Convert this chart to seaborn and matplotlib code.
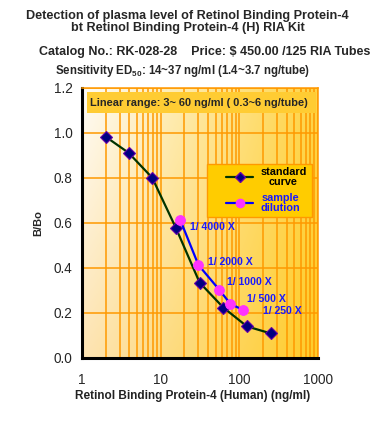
import numpy as np
import pandas as pd
import matplotlib
matplotlib.use("Agg")
import matplotlib.pyplot as plt
import seaborn as sns
from matplotlib.lines import Line2D
from matplotlib.patches import Rectangle
from matplotlib.ticker import LogLocator, FixedLocator

# ---- data ----
std_conc = [2.0, 3.9, 7.8, 15.6, 31.25, 62.5, 125.0, 250.0]
std_bbo = [0.982, 0.911, 0.80, 0.577, 0.334, 0.223, 0.139, 0.108]
smp_conc = [17.8, 30.2, 55.8, 77.0, 112.0]
smp_bbo = [0.611, 0.412, 0.301, 0.239, 0.212]
smp_labels = ["1/ 4000 X", "1/ 2000 X", "1/ 1000 X", "1/ 500 X", "1/ 250 X"]
x_ticks = [1, 10, 100, 1000]
y_ticks = [0.0, 0.2, 0.4, 0.6, 0.8, 1.0, 1.2]

sns.set_style("white")
plt.rcParams['font.family'] = ['Liberation Sans', 'DejaVu Sans']
plt.rcParams['mathtext.fontset'] = 'custom'
plt.rcParams['mathtext.rm'] = 'Liberation Sans:bold'
plt.rcParams['mathtext.default'] = 'rm'

fig = plt.figure(figsize=(3.75, 4.25), dpi=100)
fig.patch.set_facecolor("white")
ax = fig.add_axes([0.2187, 0.1584, 0.6293, 0.6352])

# gradient background
nx, ny = 200, 100
gx = np.linspace(0, 1, nx)[None, :]
gy = np.linspace(0, 1, ny)[:, None]  # 0 = bottom
c_tl = np.array([255, 252, 246]) / 255
c_bl = np.array([253, 228, 180]) / 255
c_tr = np.array([255, 212, 72]) / 255
c_br = np.array([255, 204, 40]) / 255
top = c_tl[None, None, :] * (1 - gx[..., None]) + c_tr[None, None, :] * gx[..., None]
bot = c_bl[None, None, :] * (1 - gx[..., None]) + c_br[None, None, :] * gx[..., None]
img = bot * (1 - gy[..., None]) + top * gy[..., None]
ax.imshow(img, extent=[0, 1, 0, 1], transform=ax.transAxes, origin="lower",
          aspect="auto", zorder=0)

df_std = pd.DataFrame({"conc": std_conc, "bbo": std_bbo})
df_smp = pd.DataFrame({"conc": smp_conc, "bbo": smp_bbo})

sns.lineplot(data=df_std, x="conc", y="bbo", ax=ax, color="#003300", lw=1.6,
             marker="D", markersize=6, markerfacecolor="#000080",
             markeredgecolor="#6600aa", markeredgewidth=0.8, zorder=5)
sns.lineplot(data=df_smp, x="conc", y="bbo", ax=ax, color="#0000ff", lw=1.6,
             marker="o", markersize=7, markerfacecolor="#ff33ff",
             markeredgecolor="#ff33ff", zorder=6)

ax.set_xscale("log")
ax.set_xlim(1, 1000)
ax.set_ylim(0, 1.2)
ax.xaxis.set_major_locator(FixedLocator(x_ticks))
ax.set_xticklabels([str(t) for t in x_ticks])
ax.xaxis.set_minor_locator(LogLocator(base=10, subs=np.arange(2, 10)))
ax.yaxis.set_major_locator(FixedLocator(y_ticks))
ax.set_yticklabels([f"{t:.1f}" for t in y_ticks])

ax.grid(True, which="major", axis="both", color="#ff9900", lw=1.1, zorder=1)
ax.grid(True, which="minor", axis="x", color="#ff9900", lw=1.1, zorder=1)
ax.set_axisbelow(True)

for s in ["left", "bottom"]:
    ax.spines[s].set_color("black")
    ax.spines[s].set_linewidth(2.2)
for s in ["top", "right"]:
    ax.spines[s].set_color("#ff9900")
    ax.spines[s].set_linewidth(1.1)

ax.tick_params(axis="y", which="major", direction="out", length=4, width=1.2,
               color="black", labelsize=9.8, pad=3)
ax.tick_params(axis="x", which="major", direction="in", length=3, width=1.5,
               color="black", labelsize=9.8, pad=11)
ax.tick_params(axis="x", which="minor", length=0)

ax.set_xlabel("Retinol Binding Protein-4 (Human) (ng/ml)", fontsize=8.5,
              fontweight="bold", color="#222222")
ax.xaxis.set_label_coords((193 - 82) / 236, -0.118)
ax.set_ylabel("B/Bo", fontsize=8, fontweight="bold", labelpad=7)

# linear range box
ax.add_patch(Rectangle((0.021, 0.905), 0.97, 0.078, transform=ax.transAxes,
                       facecolor="#ffcc33", edgecolor="none", zorder=3))
ax.text(0.032, 0.944, "Linear range: 3~ 60 ng/ml ( 0.3~6 ng/tube)",
        transform=ax.transAxes, fontsize=7.9, fontweight="bold",
        va="center", ha="left", zorder=4)

# sample labels
lab_pos = [(189.5, 227), (207.7, 262.3), (226.7, 282.3), (246.7, 298.7), (263, 311)]
for (px, py), lab, cx, cy in zip(lab_pos, smp_labels, smp_conc, smp_bbo):
    ax.annotate(lab, xy=(cx, cy), xycoords="data",
                xytext=(px / 375, 1 - py / 425), textcoords="figure fraction",
                fontsize=7.6, fontweight="bold", color="#1a1aff",
                va="center", ha="left", zorder=7)

# legend box + legend
ax.add_patch(Rectangle((0.531, 0.522), 0.442, 0.195, transform=ax.transAxes,
                       facecolor="#ffcc00", edgecolor="#ff9900", lw=1.0,
                       zorder=7.5))
handles = [
    Line2D([], [], color="#003300", lw=1.6, marker="D", markersize=5,
           markerfacecolor="#000080", markeredgecolor="#6600aa"),
    Line2D([], [], color="#0000ff", lw=1.6, marker="o", markersize=6,
           markerfacecolor="#ff33ff", markeredgecolor="#ff33ff"),
]
leg = ax.legend(handles, ["standard\ncurve", "sample\ndilution"],
                loc="upper left", bbox_to_anchor=((226 - 82) / 236, 0.708),
                frameon=False, borderaxespad=0, borderpad=0,
                prop={"size": 7.8, "weight": "bold"}, handlelength=2.5,
                labelspacing=0.6, handletextpad=0.65)
leg.set_zorder(8)
leg.get_texts()[0].set_color("black")
leg.get_texts()[1].set_color("#1a1aff")
for t in leg.get_texts():
    t.set_ha("center")
    t.set_linespacing(1.0)

# titles
fig.text(0.5, 1 - 15.5 / 425, "Detection of plasma level of Retinol Binding Protein-4",
         ha="center", va="center", fontsize=9.1, fontweight="bold")
fig.text(0.5, 1 - 27.5 / 425, "bt Retinol Binding Protein-4 (H) RIA Kit",
         ha="center", va="center", fontsize=9.1, fontweight="bold")
fig.text(204.5 / 375, 1 - 51.5 / 425, "Catalog No.: RK-028-28    Price: $ 450.00 /125 RIA Tubes",
         ha="center", va="center", fontsize=9.0, fontweight="bold")
fig.text(182.5 / 375, 1 - 71 / 425, "Sensitivity ED$_{50}$: 14~37 ng/ml (1.4~3.7 ng/tube)",
         ha="center", va="center", fontsize=8.3, fontweight="bold")

fig.savefig("out.png", dpi=100, facecolor="white")
